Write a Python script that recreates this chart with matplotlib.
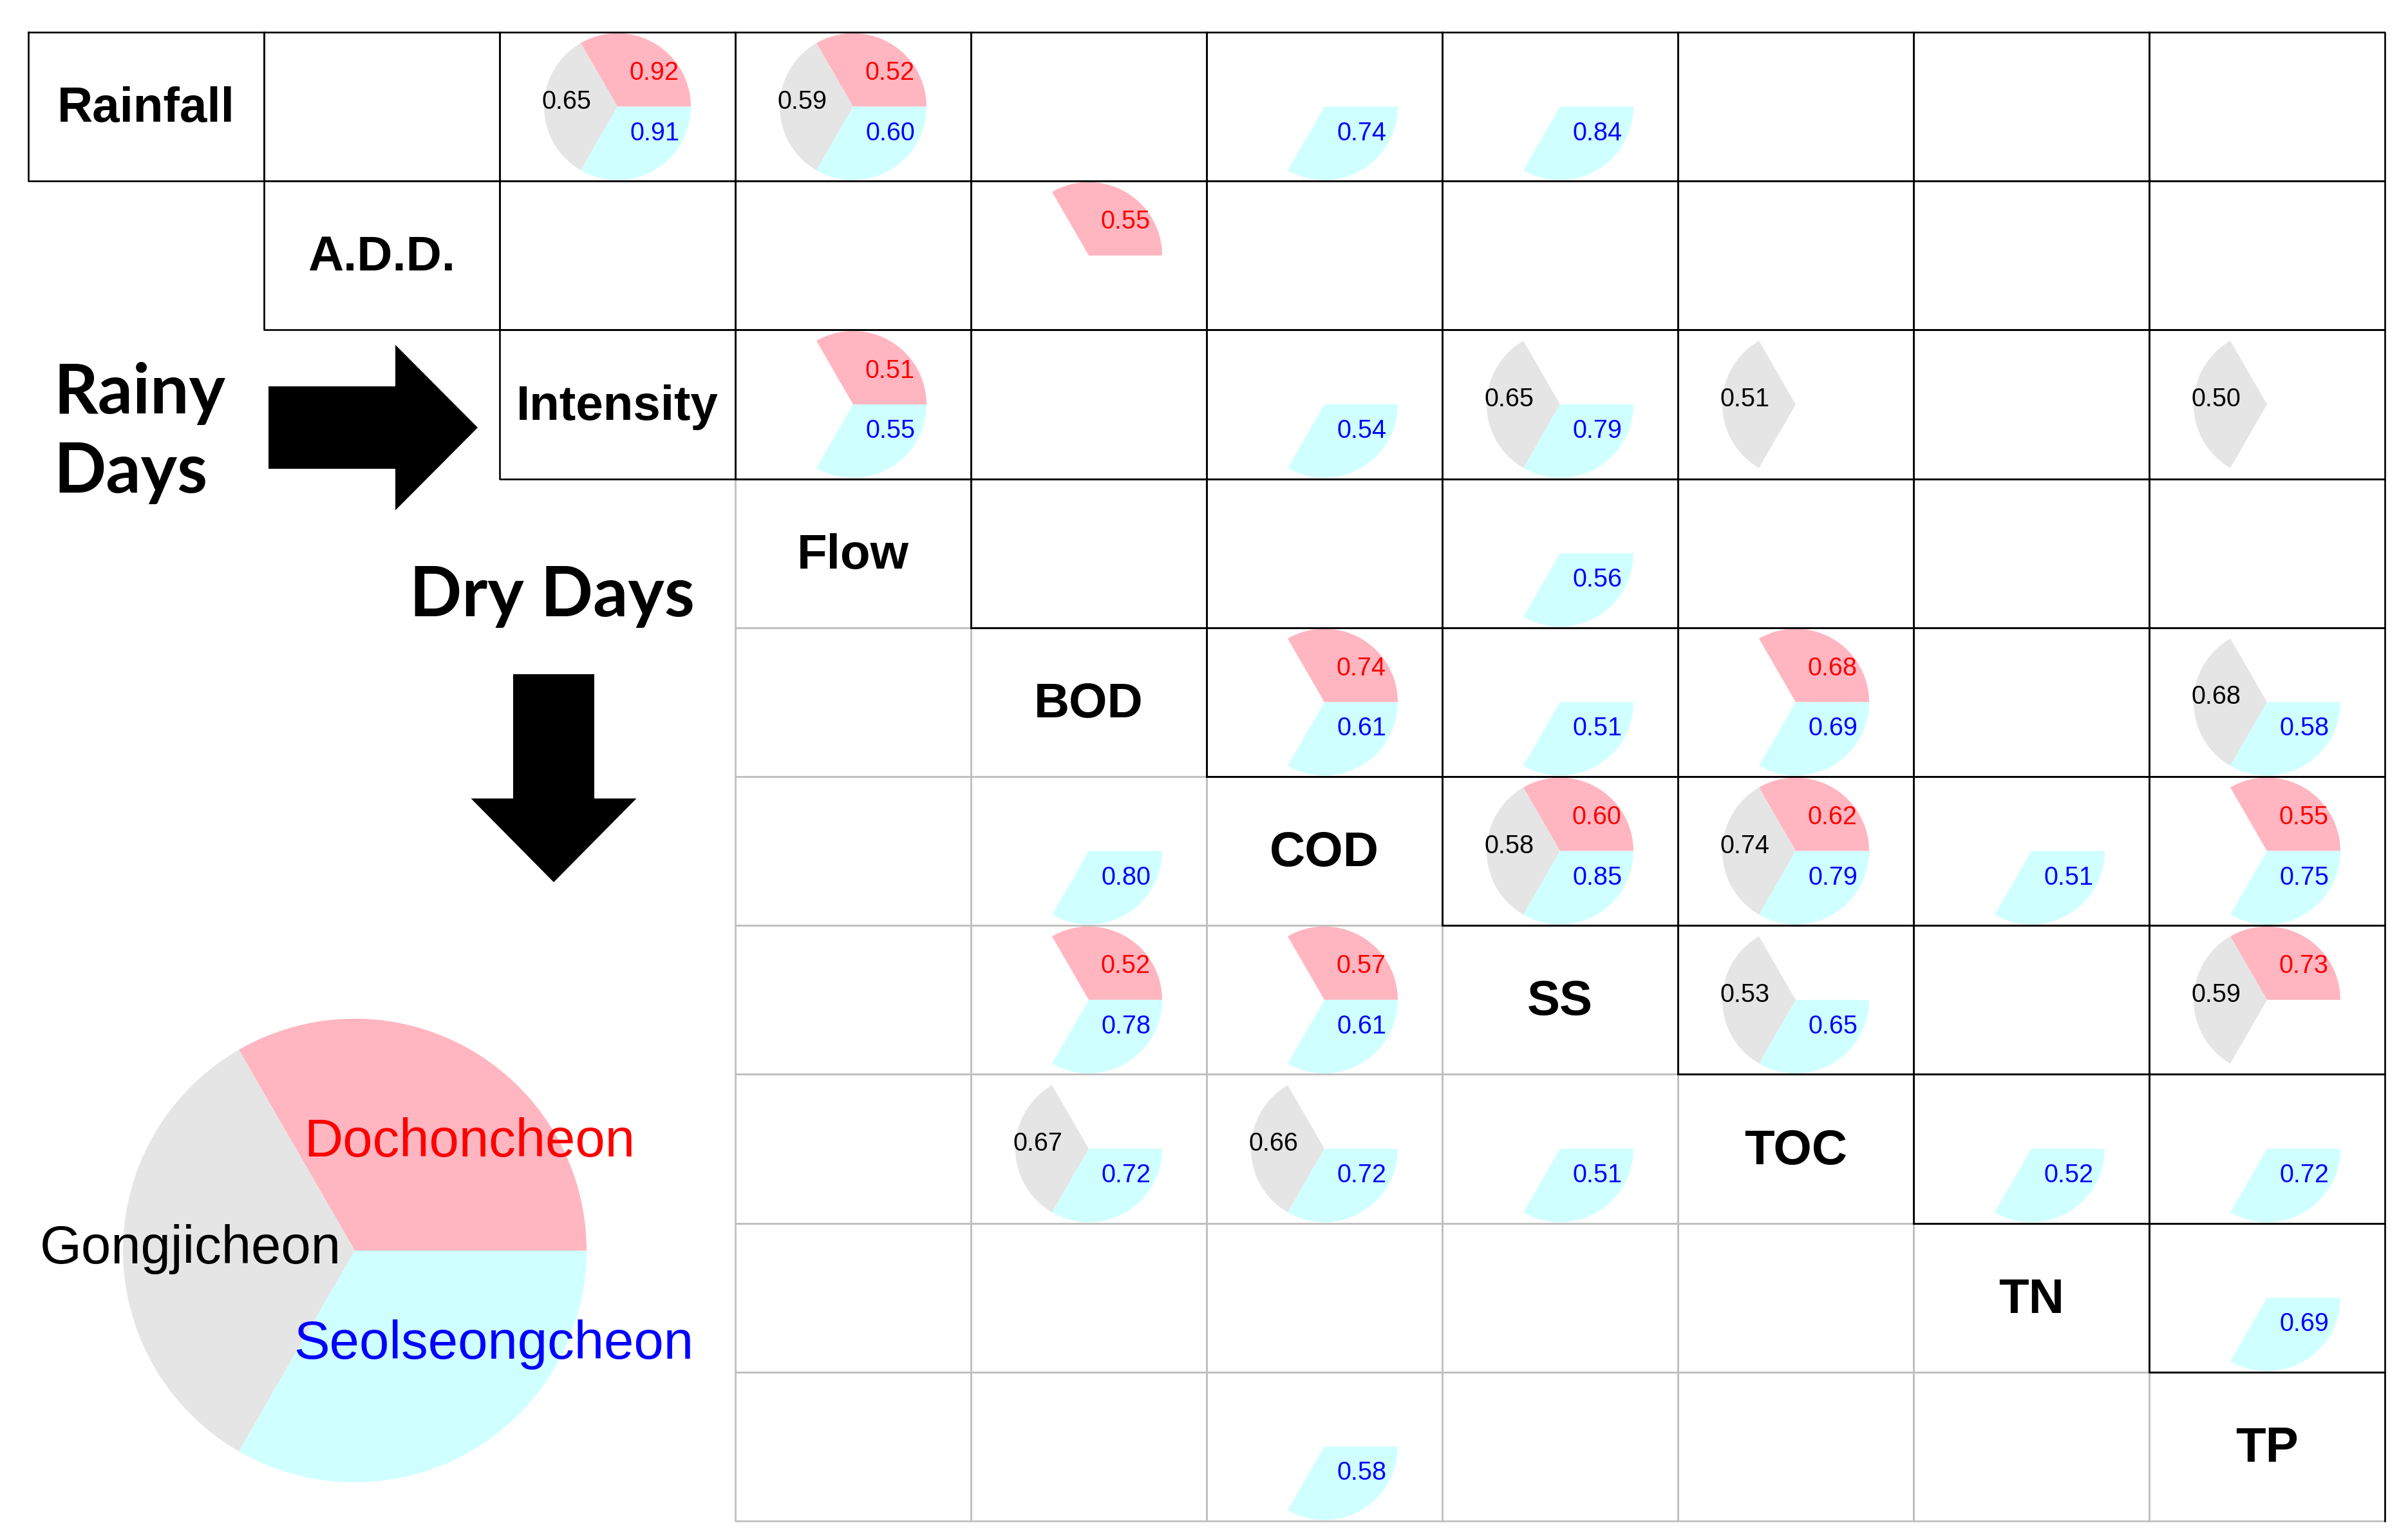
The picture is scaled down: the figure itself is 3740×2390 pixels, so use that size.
import matplotlib
matplotlib.use("Agg")
import matplotlib.pyplot as plt
from matplotlib.patches import Wedge, Rectangle, FancyArrow

variables = ["Rainfall", "A.D.D.", "Intensity", "Flow", "BOD", "COD", "SS", "TOC", "TN", "TP"]
stations = ["Dochoncheon", "Gongjicheon", "Seolseongcheon"]

# (row variable, column variable, r); upper triangle = rainy days, lower = dry days
dochoncheon = [
    ("Rainfall", "Intensity", 0.92), ("Rainfall", "Flow", 0.52), ("A.D.D.", "BOD", 0.55),
    ("Intensity", "Flow", 0.51), ("BOD", "COD", 0.74), ("BOD", "TOC", 0.68),
    ("COD", "SS", 0.60), ("COD", "TOC", 0.62), ("COD", "TP", 0.55), ("SS", "TP", 0.73),
    ("SS", "BOD", 0.52), ("SS", "COD", 0.57),
]
gongjicheon = [
    ("Rainfall", "Intensity", 0.65), ("Rainfall", "Flow", 0.59), ("Intensity", "SS", 0.65),
    ("Intensity", "TOC", 0.51), ("Intensity", "TP", 0.50), ("BOD", "TP", 0.68),
    ("COD", "SS", 0.58), ("COD", "TOC", 0.74), ("SS", "TOC", 0.53), ("SS", "TP", 0.59),
    ("TOC", "BOD", 0.67), ("TOC", "COD", 0.66),
]
seolseongcheon = [
    ("Rainfall", "Intensity", 0.91), ("Rainfall", "Flow", 0.60), ("Rainfall", "COD", 0.74),
    ("Rainfall", "SS", 0.84), ("Intensity", "Flow", 0.55), ("Intensity", "COD", 0.54),
    ("Intensity", "SS", 0.79), ("Flow", "SS", 0.56), ("BOD", "COD", 0.61), ("BOD", "SS", 0.51),
    ("BOD", "TOC", 0.69), ("BOD", "TP", 0.58), ("COD", "SS", 0.85), ("COD", "TOC", 0.79),
    ("COD", "TN", 0.51), ("COD", "TP", 0.75), ("SS", "TOC", 0.65), ("TOC", "TN", 0.52),
    ("TOC", "TP", 0.72), ("TN", "TP", 0.69),
    ("COD", "BOD", 0.80), ("SS", "BOD", 0.78), ("SS", "COD", 0.61), ("TOC", "BOD", 0.72),
    ("TOC", "COD", 0.72), ("TOC", "SS", 0.51), ("TP", "COD", 0.58),
]

fill_colors = ["#FFB6C1", "#E5E5E5", "#D0FFFF"]
text_colors = ["#FF0000", "#000000", "#0000FF"]
# y axis runs downward, so screen angles are mirrored: red 0-120 deg on screen
sector_angles = [(240, 360), (120, 240), (0, 120)]
label_offsets = [(0.50, -0.46), (-0.69, -0.07), (0.51, 0.36)]

W, H = 3741, 2390
x0, cw = 44, 366
y0, ch = 50, 231.2
r_cell = 114

fig = plt.figure(figsize=(W / 100, H / 100), dpi=100)
ax = fig.add_axes([0, 0, 1, 1])
ax.set_xlim(0, W)
ax.set_ylim(H, 0)
ax.axis("off")

n = len(variables)
gray_kw = dict(color="#C0C0C0", lw=2.0, zorder=2, solid_capstyle="projecting")
black_kw = dict(color="black", lw=1.9, zorder=3, solid_capstyle="projecting")

def edges(i, j):
    return x0 + j * cw, x0 + (j + 1) * cw, y0 + i * ch, y0 + (i + 1) * ch

# light grid for lower triangle (dry days)
for i in range(3, n):
    for j in range(3, i + 1):
        l, r, t, b = edges(i, j)
        ax.plot([l, r, r, l, l], [t, t, b, b, t], **gray_kw)

# black boxes for upper triangle (rainy days)
for i in range(n):
    for j in range(i, n):
        l, r, t, b = edges(i, j)
        if j > i or i <= 2:
            ax.plot([l, r, r, l, l], [t, t, b, b, t], **black_kw)
        else:
            ax.plot([l, r, r], [t, t, b], **black_kw)

# headers on the diagonal
for k, name in enumerate(variables):
    l, r, t, b = edges(k, k)
    ax.text((l + r) / 2, (t + b) / 2 + 4, name, ha="center", va="center",
            fontsize=55, fontweight="bold", family="Liberation Sans", zorder=5)

# pies
for s, data in enumerate([dochoncheon, gongjicheon, seolseongcheon]):
    for rv, cv, val in data:
        i, j = variables.index(rv), variables.index(cv)
        l, r, t, b = edges(i, j)
        cx, cy = (l + r) / 2, (t + b) / 2
        w = Wedge((cx, cy), r_cell, *sector_angles[s], facecolor=fill_colors[s],
                  edgecolor="none", zorder=1)
        ax.add_patch(w)
        w.set_clip_path(Rectangle((l, t), cw, ch, transform=ax.transData))
        dx, dy = label_offsets[s]
        ax.text(cx + dx * r_cell, cy + dy * r_cell, f"{val:.2f}", ha="center", va="center",
                fontsize=28.5, color=text_colors[s], family="Liberation Sans", zorder=6)

# legend pie
lc, lr = (551, 1942), 360
for s in range(3):
    ax.add_patch(Wedge(lc, lr, *sector_angles[s], facecolor=fill_colors[s],
                       edgecolor="none", zorder=1))
legend_pos = [(472, 1796), (62, 1962), (456, 2110)]
for s, name in enumerate(stations):
    ax.text(*legend_pos[s], name, ha="left", va="baseline", fontsize=60,
            color=text_colors[s], family="Liberation Sans", zorder=6)

# rainy / dry days labels and arrows
ax.text(83, 642, "Rainy", ha="left", va="baseline", fontsize=77, fontweight="bold",
        family="Lato", zorder=6)
ax.text(83, 765, "Days", ha="left", va="baseline", fontsize=77, fontweight="bold",
        family="Lato", zorder=6)
ax.text(636, 957, "Dry Days", ha="left", va="baseline", fontsize=77, fontweight="bold",
        family="Lato", zorder=6)
ax.add_patch(FancyArrow(417, 664, 325, 0, width=128, head_width=257, head_length=128,
                        length_includes_head=True, color="black", lw=0, zorder=6))
ax.add_patch(FancyArrow(860, 1047, 0, 323, width=126, head_width=257, head_length=130,
                        length_includes_head=True, color="black", lw=0, zorder=6))

fig.savefig("out.png", dpi=100, facecolor="white")
